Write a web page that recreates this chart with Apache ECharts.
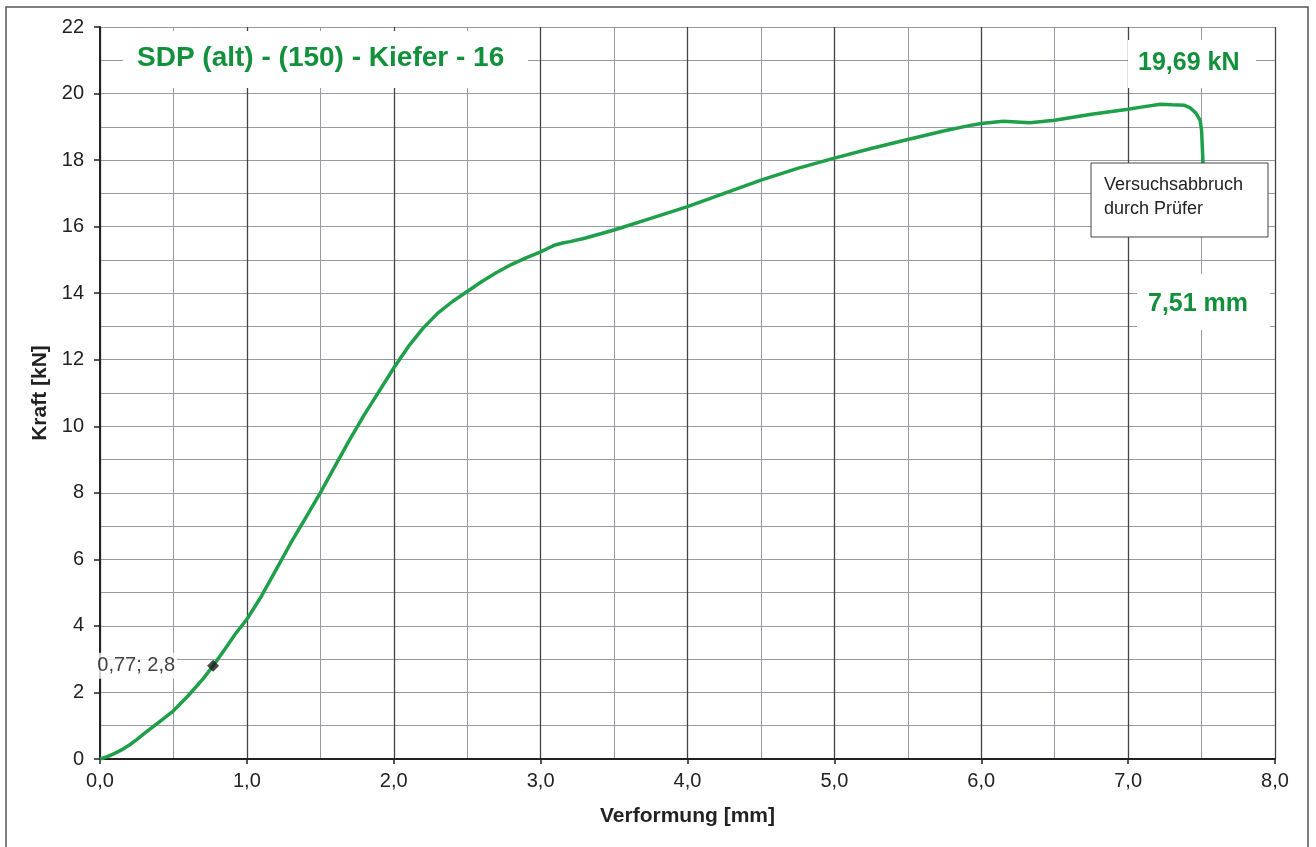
<!DOCTYPE html>
<html>
<head>
<meta charset="utf-8">
<script src="https://cdn.jsdelivr.net/npm/echarts@6/dist/echarts.min.js"></script>
<style>
html,body{margin:0;padding:0;background:#fff;}
#chart{width:1316px;height:847px;}
</style>
</head>
<body>
<div id="chart"></div>
<script>
// Verformung [mm]
const deformation = [0, 0.05, 0.1, 0.15, 0.2, 0.25, 0.3, 0.4, 0.5, 0.6, 0.7, 0.77, 0.85, 0.92, 1.0, 1.1, 1.2, 1.3, 1.4, 1.5, 1.6, 1.7, 1.8, 1.9, 2.0, 2.1, 2.2, 2.3, 2.4, 2.5, 2.6, 2.7, 2.8, 2.9, 3.0, 3.05, 3.1, 3.15, 3.2, 3.3, 3.5, 3.75, 4.0, 4.25, 4.5, 4.75, 5.0, 5.25, 5.5, 5.75, 5.9, 6.0, 6.15, 6.33, 6.5, 6.75, 7.0, 7.1, 7.22, 7.3, 7.38, 7.42, 7.46, 7.49, 7.5, 7.51];
// Kraft [kN]
const force = [0, 0.07, 0.17, 0.28, 0.42, 0.58, 0.76, 1.1, 1.45, 1.9, 2.4, 2.8, 3.3, 3.75, 4.2, 4.9, 5.7, 6.5, 7.25, 8.0, 8.8, 9.6, 10.35, 11.05, 11.75, 12.4, 12.95, 13.4, 13.75, 14.05, 14.35, 14.62, 14.86, 15.06, 15.24, 15.35, 15.45, 15.51, 15.55, 15.65, 15.9, 16.25, 16.6, 17.0, 17.4, 17.75, 18.06, 18.35, 18.62, 18.88, 19.02, 19.1, 19.17, 19.12, 19.2, 19.38, 19.53, 19.6, 19.68, 19.66, 19.65, 19.58, 19.42, 19.2, 18.9, 17.9];
const markerPoint = [0.77, 2.8];
const peakLabel = '19,69 kN';
const endLabel = '7,51 mm';
const titleText = 'SDP (alt) - (150) - Kiefer - 16';
const noteText = 'Versuchsabbruch\ndurch Prüfer';

const fmt = v => v.toFixed(1).replace('.', ',');
const curve = deformation.map((x, i) => [x, force[i]]);

const chart = echarts.init(document.getElementById('chart'));
const green = '#1f9f4a';
const textGreen = '#12903c';
chart.setOption({
  animation: false,
  backgroundColor: '#fff',
  grid: {left: 100, right: 41, top: 27, bottom: 88},
  xAxis: {
    type: 'value', min: 0, max: 8, interval: 1,
    name: 'Verformung [mm]', nameLocation: 'middle', nameGap: 47,
    nameTextStyle: {fontFamily: 'Liberation Sans', fontWeight: 'bold', fontSize: 21, color: '#222'},
    axisLine: {lineStyle: {color: '#222', width: 2}},
    axisTick: {show: true, length: 5, lineStyle: {color: '#222', width: 1.5}},
    axisLabel: {fontFamily: 'Liberation Sans', fontSize: 20, color: '#222', margin: 12, formatter: v => fmt(v)},
    splitLine: {show: true, lineStyle: {color: '#444', width: 1.3}},
    minorTick: {show: false, splitNumber: 2},
    minorSplitLine: {show: true, lineStyle: {color: '#9a9aa6', width: 1}}
  },
  yAxis: {
    type: 'value', min: 0, max: 22, interval: 2,
    name: 'Kraft [kN]', nameLocation: 'middle', nameGap: 44, nameRotate: 90,
    nameTextStyle: {fontFamily: 'Liberation Sans', fontWeight: 'bold', fontSize: 21, color: '#222'},
    axisLine: {show: true, lineStyle: {color: '#222', width: 2}},
    axisTick: {show: true, length: 6, lineStyle: {color: '#222', width: 1.5}},
    axisLabel: {fontFamily: 'Liberation Sans', fontSize: 20, color: '#222', margin: 16},
    splitLine: {show: true, lineStyle: {color: '#9a9aa6', width: 1}},
    minorTick: {show: false, splitNumber: 2},
    minorSplitLine: {show: true, lineStyle: {color: '#9a9aa6', width: 1}}
  },
  series: [
    {
      type: 'line', data: curve, showSymbol: false, smooth: false,
      lineStyle: {color: green, width: 3.5, join: 'round'}, z: 3
    },
    {
      type: 'scatter', data: [markerPoint], symbol: 'diamond', symbolSize: 12,
      itemStyle: {color: '#1a1a1a'}, z: 4,
      label: {
        show: true, position: 'left', distance: 30,
        formatter: p => p.value[0].toFixed(2).replace('.', ',') + '; ' + p.value[1].toFixed(1).replace('.', ','),
        fontFamily: 'Liberation Sans', fontSize: 20, color: '#111',
        backgroundColor: '#fff', padding: [3, 2, 3, 2]
      }
    }
  ],
  graphic: [
    {type: 'rect', shape: {x: 6, y: 7, width: 1302, height: 860}, style: {fill: 'none', stroke: '#555', lineWidth: 1.5}, z: -1, silent: true},
    {type: 'rect', shape: {x: 123, y: 31, width: 405, height: 57}, style: {fill: '#fff'}, z: 10},
    {type: 'text', x: 137, y: 58, style: {text: titleText, fontFamily: 'Liberation Sans', fontWeight: 'bold', fontSize: 28, fill: textGreen, textVerticalAlign: 'middle'}, z: 11},
    {type: 'rect', shape: {x: 1128, y: 40, width: 128, height: 48}, style: {fill: '#fff'}, z: 10},
    {type: 'text', x: 1138, y: 63, style: {text: peakLabel, fontFamily: 'Liberation Sans', fontWeight: 'bold', fontSize: 25, fill: textGreen, textVerticalAlign: 'middle'}, z: 11},
    {type: 'rect', shape: {x: 1137, y: 274, width: 133, height: 56}, style: {fill: '#fff'}, z: 10},
    {type: 'text', x: 1148, y: 304, style: {text: endLabel, fontFamily: 'Liberation Sans', fontWeight: 'bold', fontSize: 25, fill: textGreen, textVerticalAlign: 'middle'}, z: 11},
    {type: 'rect', shape: {x: 1091, y: 163, width: 177, height: 74}, style: {fill: '#fff', stroke: '#444', lineWidth: 1}, z: 10},
    {type: 'text', x: 1104, y: 173, style: {text: noteText, fontFamily: 'Liberation Sans', fontSize: 18, lineHeight: 24, fill: '#222'}, z: 11}
  ]
});
</script>
</body>
</html>
